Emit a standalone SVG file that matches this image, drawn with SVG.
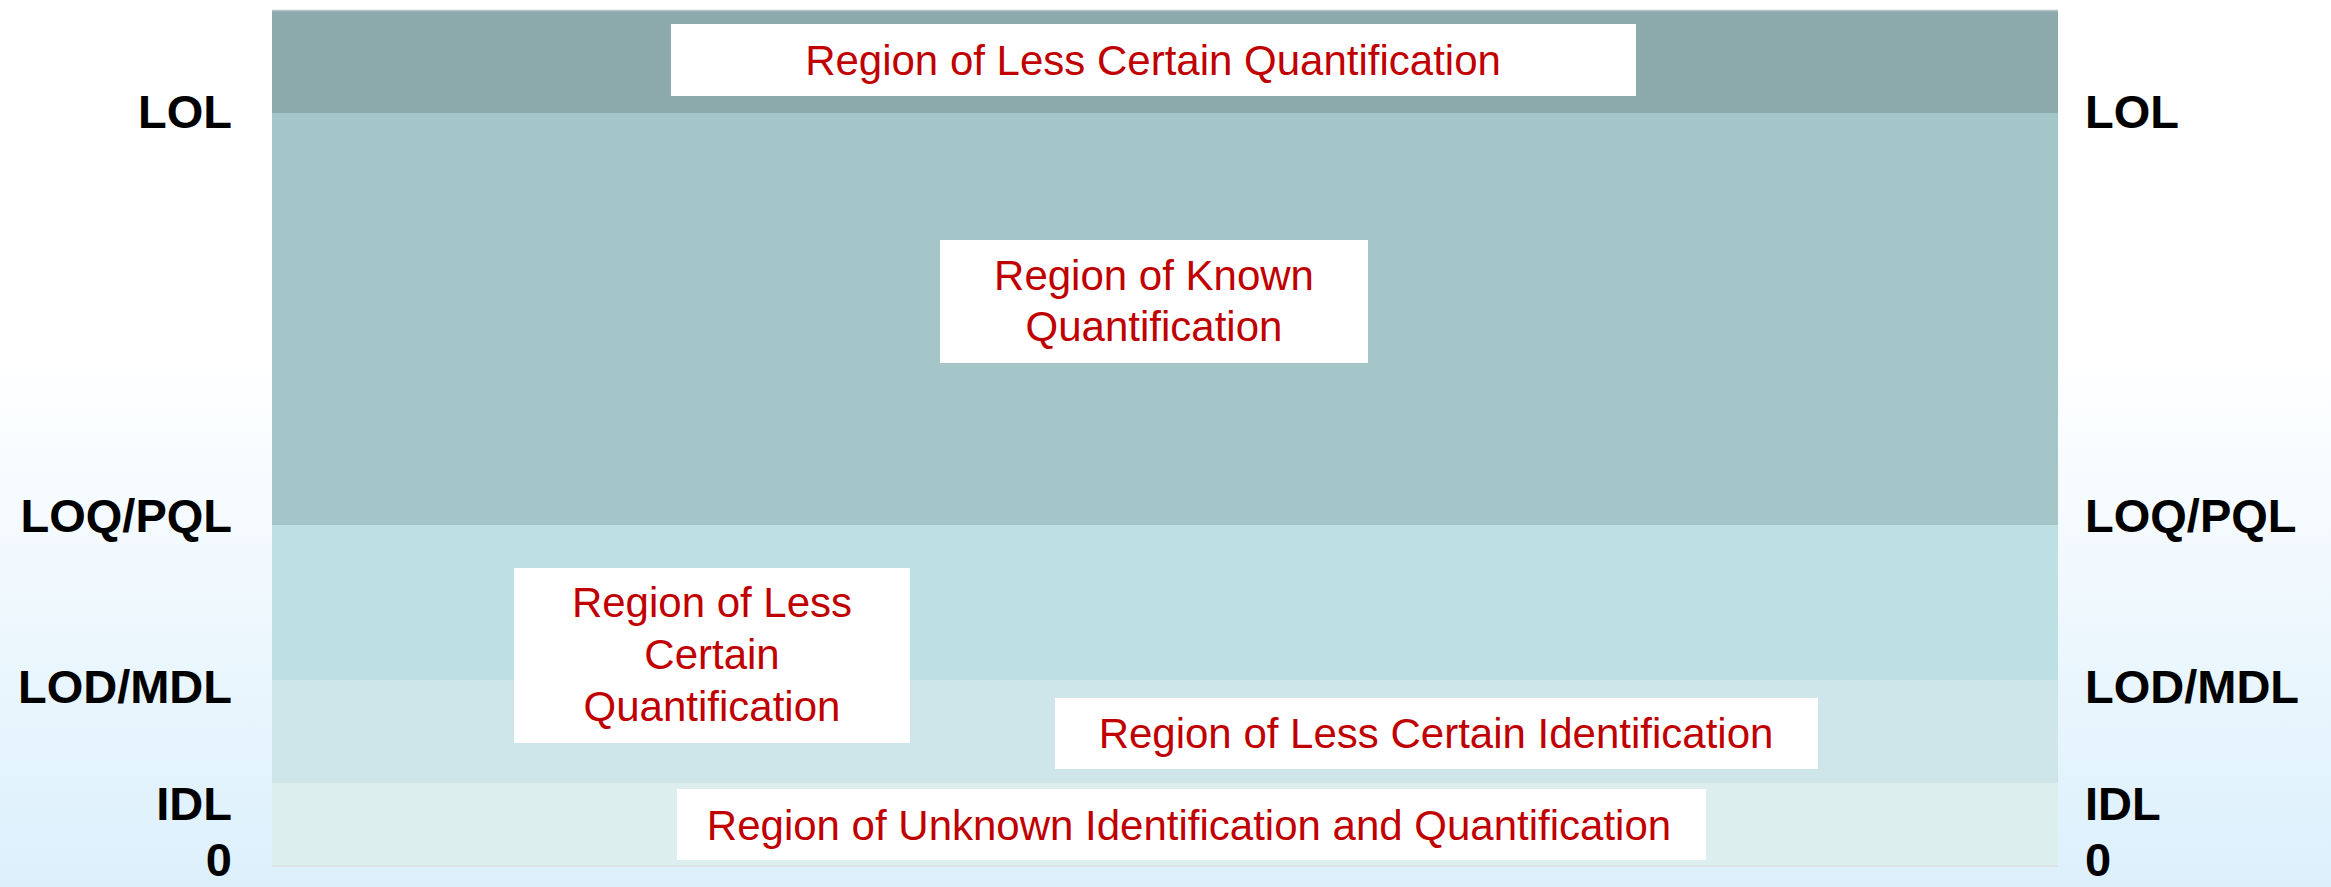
<svg xmlns="http://www.w3.org/2000/svg" width="2331" height="887" viewBox="0 0 2331 887">
<defs>
<linearGradient id="bg" x1="0" y1="0" x2="0" y2="1">
<stop offset="0" stop-color="#ffffff"/>
<stop offset="0.4" stop-color="#ffffff"/>
<stop offset="1" stop-color="#dcf0fc"/>
</linearGradient>
</defs>
<style>
.lbl{font-family:"Liberation Sans",Arial,sans-serif;font-weight:bold;font-size:47px;fill:#000}
.l{text-anchor:end}
.r{text-anchor:start}
.box{fill:#ffffff}
.t{font-family:"Liberation Sans",Arial,sans-serif;font-size:42px;fill:#c00000;text-anchor:middle}
</style>
<rect x="0" y="0" width="2331" height="887" fill="url(#bg)"/>
<g id="bands">
<rect x="272" y="10" width="1786" height="103" fill="#8caaab"/>
<rect x="272" y="113" width="1786" height="412" fill="#a5c6c8"/>
<rect x="272" y="525" width="1786" height="155" fill="#bce0e3"/>
<rect x="272" y="680" width="1786" height="103" fill="#cee6e9"/>
<rect x="272" y="783" width="1786" height="83" fill="#ddeeee"/>
<line x1="272" y1="10.5" x2="2058" y2="10.5" stroke="#b9c6c6" stroke-width="1.5"/>
<line x1="272" y1="866" x2="2058" y2="866" stroke="#dde3e3" stroke-width="2"/>
</g>
<g id="labels-left">
<text class="lbl l" x="232" y="128">LOL</text>
<text class="lbl l" x="232" y="532">LOQ/PQL</text>
<text class="lbl l" x="232" y="703">LOD/MDL</text>
<text class="lbl l" x="232" y="820">IDL</text>
<text class="lbl l" x="232" y="876">0</text>
</g>
<g id="labels-right">
<text class="lbl r" x="2085" y="128">LOL</text>
<text class="lbl r" x="2085" y="532">LOQ/PQL</text>
<text class="lbl r" x="2085" y="703">LOD/MDL</text>
<text class="lbl r" x="2085" y="820">IDL</text>
<text class="lbl r" x="2085" y="876">0</text>
</g>
<g id="node-top-lcq">
<rect class="box" x="671" y="24" width="965" height="72"/>
<text class="t" x="1153" y="75">Region of Less Certain Quantification</text>
</g>
<g id="node-known">
<rect class="box" x="940" y="240" width="428" height="123"/>
<text class="t" x="1154" y="290">Region of Known</text>
<text class="t" x="1154" y="341">Quantification</text>
</g>
<g id="node-low-lcq">
<rect class="box" x="514" y="568" width="396" height="175"/>
<text class="t" x="712" y="617">Region of Less</text>
<text class="t" x="712" y="669">Certain</text>
<text class="t" x="712" y="721">Quantification</text>
</g>
<g id="node-lci">
<rect class="box" x="1055" y="698" width="763" height="71"/>
<text class="t" x="1436" y="748">Region of Less Certain Identification</text>
</g>
<g id="node-unknown">
<rect class="box" x="677" y="789" width="1029" height="71"/>
<text class="t" x="1189" y="840">Region of Unknown Identification and Quantification</text>
</g>
</svg>
